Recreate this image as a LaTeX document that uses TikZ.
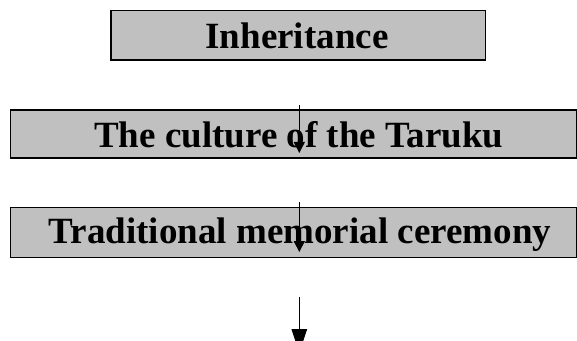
\documentclass[tikz,border=0pt]{standalone}
\usepackage{fontspec}
\setmainfont{Liberation Serif}
\usetikzlibrary{arrows.meta}
\definecolor{boxgray}{RGB}{192,192,192}
\tikzset{
  graybox/.style={draw=black, fill=boxgray, line width=1.5pt, rectangle, inner sep=0pt},
  label/.style={anchor=base, inner sep=0pt, font=\fontsize{37}{40}\selectfont\bfseries},
  flow/.style={line width=1pt, -{Triangle[width=11pt,length=11pt]}},
  bigflow/.style={line width=1pt, -{Triangle[width=15.5pt,length=24pt]}}
}
\begin{document}
\begin{tikzpicture}[x=1pt,y=1pt]
\useasboundingbox (0,0) rectangle (577,340);
% boxes
\node[graybox, minimum width=374.7pt, minimum height=49.3pt] (b1) at (298.3,304.7) {};
\node[graybox, minimum width=566.2pt, minimum height=48pt] (b2) at (293.4,206) {};
\node[graybox, minimum width=566.2pt, minimum height=50.4pt] (b3) at (293.4,107.5) {};
% texts
\node[label] (t1) at (297,291.3) {Inheritance};
\node[label] (t2) at (298.7,192) {The culture of the Taruku};
\node[label] (t3) at (300,96.3) {Traditional memorial ceremony};
% arrows
\coordinate (a1s) at (299.3,235);
\coordinate (a1e) at (299.3,187);
\coordinate (a2s) at (299.3,138);
\coordinate (a2e) at (299.3,88);
\coordinate (a3s) at (299.3,43);
\coordinate (a3e) at (299.3,-13);
\draw[flow] (a1s) -- (a1e);
\draw[flow] (a2s) -- (a2e);
\draw[bigflow] (a3s) -- (a3e);
\end{tikzpicture}
\end{document}
